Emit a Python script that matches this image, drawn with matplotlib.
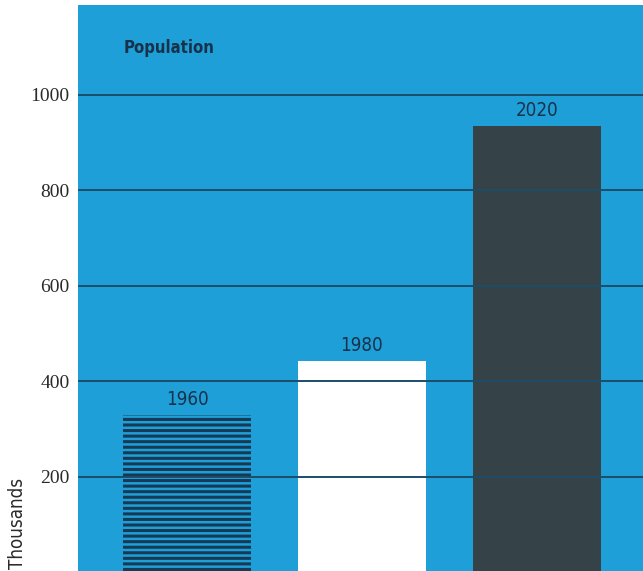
import matplotlib
matplotlib.use("Agg")
import matplotlib.pyplot as plt

# data
years = ["1960", "1980", "2020"]
population = [330, 443, 934]   # thousands
yticks = [200, 400, 600, 800, 1000]

bg_blue = "#1e9fd8"
navy = "#17324a"
grid_col = "#1c4d68"
bar_faces = [bg_blue, "#ffffff", "#354247"]
bar_hatch = ["---", "", ""]

plt.rcParams["hatch.linewidth"] = 2.2
plt.rcParams["hatch.color"] = "#163a55"

cond = dict(family="DejaVu Sans", stretch="condensed")

fig = plt.figure(figsize=(6.43, 5.71), dpi=100)
ax = fig.add_axes([78 / 643, -1.5 / 571, 1 - 78 / 643, 567.5 / 571])
ax.set_facecolor(bg_blue)

xpos = list(range(len(years)))
bars = ax.bar(xpos, population, width=0.73, color=bar_faces, linewidth=0, zorder=1)
for b, h in zip(bars, bar_hatch):
    b.set_hatch(h)

# gridlines over the bars
for t in yticks:
    ax.axhline(t, color=grid_col, lw=1.4, zorder=2)

for x, v, lab in zip(xpos, population, years):
    ax.text(x, v + 13, lab, ha="center", va="bottom", fontsize=13.5,
            color=navy, zorder=3, **cond)

ax.set_xlim(-0.623, 2.606)
ax.set_ylim(0, 1188)
ax.set_xticks([])
ax.set_yticks(yticks)
ax.set_yticklabels([str(t) for t in yticks], family=["Liberation Serif", "DejaVu Serif"],
                   fontsize=14, color="#2a2a2a")
ax.tick_params(axis="y", length=0, pad=6)
for s in ax.spines.values():
    s.set_visible(False)

ax.text(0.08, 0.915, "Population", transform=ax.transAxes, fontsize=12,
        fontweight="bold", color=navy, **cond)
fig.text(18 / 643, 1 - 523 / 571, "Thousands", rotation=90, ha="center", va="center",
         fontsize=13.5, color="#2a2a2a", **cond)

fig.savefig("out.png", dpi=100, facecolor="white")
